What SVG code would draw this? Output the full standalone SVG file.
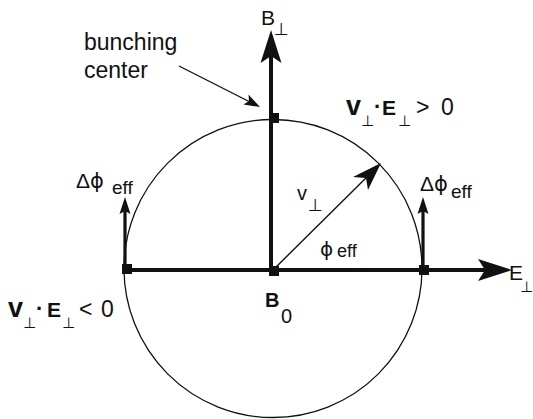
<svg xmlns="http://www.w3.org/2000/svg" width="533" height="419" viewBox="0 0 533 419">
<style>
text{font-family:"Liberation Sans",Arial,"DejaVu Sans",sans-serif;fill:#111}
.b{font-weight:bold}
.ax{stroke:#111;stroke-width:4;fill:none}
.thin{stroke:#111;stroke-width:1.4;fill:none}
.hd{fill:#111;stroke:none}
.sq{fill:#111}
.ph{font-family:"DejaVu Sans","Liberation Sans",sans-serif;font-weight:normal}
</style>
<rect width="533" height="419" fill="#fff"/>
<g id="circle">
<circle cx="273" cy="268.5" r="149" fill="none" stroke="#111" stroke-width="1.3"/>
</g>
<g id="connectors">
<line class="ax" x1="271" y1="270" x2="271" y2="55"/>
<path class="hd" d="M271,30 L281.5,63 L271,56 L260.5,63 Z"/>
<line class="ax" x1="125" y1="270" x2="490" y2="270"/>
<path class="hd" d="M512,270 L478,281 L485,270 L478,259 Z"/>
<line class="thin" x1="273" y1="270" x2="372" y2="172"/>
<path class="hd" d="M381,163 L368,190 L366,178 L353,177 Z"/>
<line stroke="#111" stroke-width="3.2" x1="125" y1="270" x2="125" y2="208"/>
<path class="hd" d="M125,197 L130.5,214 L125,211 L119.5,214 Z"/>
<line stroke="#111" stroke-width="3.2" x1="423" y1="270" x2="423" y2="208"/>
<path class="hd" d="M423,197 L428.5,214 L423,211 L417.5,214 Z"/>
<line class="thin" x1="179" y1="66" x2="252" y2="103"/>
<path class="hd" d="M260,107 L243.5,104.5 L249,101 L248.5,94.5 Z"/>
</g>
<g id="markers">
<rect class="sq" x="269" y="266" width="10" height="10"/>
<rect class="sq" x="269" y="113" width="10" height="10"/>
<rect class="sq" x="419" y="265" width="10" height="10"/>
<rect class="sq" x="122" y="264" width="10" height="10"/>
</g>
<g id="labels">
<text x="261" y="25" font-size="21">B</text><text class="ph" x="274" y="35" font-size="17">⊥</text>
<text x="509" y="280" font-size="21">E</text><text class="ph" x="520" y="292" font-size="15">⊥</text>
<text x="84" y="50" font-size="23">bunching</text>
<text x="84" y="78" font-size="23">center</text>
<text y="115"><tspan class="b" x="346" font-size="27">v</tspan><tspan class="ph" x="361" y="126" font-size="15">⊥</tspan><tspan class="b" x="374" y="114" font-size="22">·</tspan><tspan class="b" x="382" y="115" font-size="21">E</tspan><tspan class="ph" x="398" y="126" font-size="15">⊥</tspan><tspan x="416" y="115" font-size="23">&gt;</tspan><tspan x="441" y="115" font-size="23">0</tspan></text>
<text y="317"><tspan class="b" x="8" font-size="27">v</tspan><tspan class="ph" x="23" y="328" font-size="15">⊥</tspan><tspan class="b" x="36" y="316" font-size="22">·</tspan><tspan class="b" x="47" y="317" font-size="21">E</tspan><tspan class="ph" x="62" y="328" font-size="15">⊥</tspan><tspan x="79" y="317" font-size="23">&lt;</tspan><tspan x="101" y="317" font-size="23">0</tspan></text>
<text x="76" y="188" font-size="21">Δ<tspan class="ph">ϕ</tspan></text><text x="112" y="194" font-size="19">eff</text>
<text x="420" y="191" font-size="21">Δ<tspan class="ph">ϕ</tspan></text><text x="451" y="198" font-size="19">eff</text>
<text x="297" y="200" font-size="20">v</text><text class="ph" x="308" y="211" font-size="17">⊥</text>
<text class="ph" x="320" y="256" font-size="20">ϕ</text><text x="337" y="257" font-size="18">eff</text>
<text class="b" x="265" y="307" font-size="20">B</text><text x="281" y="323" font-size="20">0</text>
</g>
</svg>
